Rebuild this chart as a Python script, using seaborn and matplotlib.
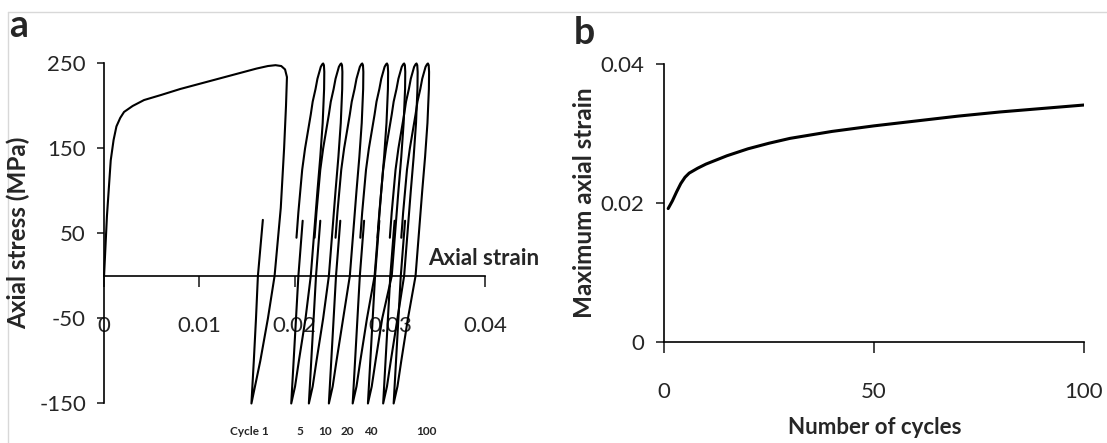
import matplotlib
matplotlib.use("Agg")
import matplotlib.pyplot as plt
import seaborn as sns
from matplotlib.lines import Line2D

# ---- panel a: stress-strain loops ----
# cycle 1: monotonic loading, unloading, start of reloading
c1_strain = [0, 0.0003, 0.0007, 0.0010, 0.0013, 0.0017, 0.0021, 0.0030, 0.0042, 0.0060,
             0.0080, 0.0100, 0.0120, 0.0140, 0.0160, 0.0172, 0.0180, 0.0186, 0.0190, 0.0192,
             0.0191, 0.0189, 0.01855, 0.0179, 0.0172, 0.0164, 0.01547, 0.01572, 0.01595, 0.01615,
             0.01667]
c1_stress = [0, 70, 136, 160, 176, 186, 193, 200, 207, 213,
             220, 226, 232, 238, 244, 247, 248, 247, 243, 234,
             200, 150, 80, 0, -50, -100, -150, -100, -50, 0,
             66]

# later cycles follow the same stress path: ~45 MPa -> 250 -> -150 -> ~65
loop_stress = [45, 75, 100, 125, 150, 170, 190, 205, 220, 232, 240, 246, 249, 250,
               248, 240, 220, 180, 140, 100, 50, 0,
               -50, -100, -130, -150,
               -110, -60, 0, 65]
c5_strain = [0.0202, 0.0204, 0.0206, 0.0208, 0.0211, 0.0214, 0.0217, 0.0219, 0.0222, 0.0224,
             0.0226, 0.02275, 0.0229, 0.0230,
             0.02308, 0.02312, 0.0231, 0.02295, 0.0227, 0.0224, 0.02205, 0.0217,
             0.02115, 0.02045, 0.02005, 0.01965,
             0.01985, 0.0201, 0.0204, 0.02085]
c10_strain = [0.0221, 0.0223, 0.0225, 0.0227, 0.0230, 0.0233, 0.0236, 0.0238, 0.0241, 0.0243,
              0.0245, 0.02465, 0.0248, 0.0249,
              0.02498, 0.02502, 0.0250, 0.02485, 0.0246, 0.0243, 0.02395, 0.0236,
              0.0230, 0.0223, 0.0219, 0.0215,
              0.0217, 0.02195, 0.02225, 0.0227]
c20_strain = [0.0243, 0.0245, 0.0247, 0.0249, 0.0252, 0.0255, 0.0258, 0.0260, 0.0263, 0.0265,
              0.0267, 0.02685, 0.0270, 0.0271,
              0.02718, 0.02722, 0.0272, 0.02705, 0.0268, 0.0265, 0.02615, 0.0258,
              0.0251, 0.0244, 0.0240, 0.0236,
              0.0238, 0.02405, 0.02435, 0.0248]
c40_strain = [0.0269, 0.0271, 0.0273, 0.0275, 0.0278, 0.0281, 0.0284, 0.0286, 0.0289, 0.0291,
              0.0293, 0.02945, 0.0296, 0.0297,
              0.02978, 0.02982, 0.0298, 0.02965, 0.0294, 0.0291, 0.02875, 0.0284,
              0.0276, 0.0269, 0.0265, 0.0261,
              0.0263, 0.02655, 0.02685, 0.0273]
c60_strain = [0.0287, 0.0289, 0.0291, 0.0293, 0.0296, 0.0299, 0.0302, 0.0304, 0.0307, 0.0309,
              0.0311, 0.03125, 0.0314, 0.0315,
              0.03158, 0.03162, 0.0316, 0.03145, 0.0312, 0.0309, 0.03055, 0.0302,
              0.0292, 0.0285, 0.0281, 0.0277,
              0.0279, 0.02815, 0.02845, 0.0289]
c80_strain = [0.0300, 0.0302, 0.0304, 0.0306, 0.0309, 0.0312, 0.0315, 0.0317, 0.0320, 0.0322,
              0.0324, 0.03255, 0.0327, 0.0328,
              0.03288, 0.03292, 0.0329, 0.03275, 0.0325, 0.0322, 0.03185, 0.0315,
              0.0308, 0.0301, 0.0297, 0.0293,
              0.0295, 0.02975, 0.03005, 0.0305]
c100_strain = [0.0312, 0.0314, 0.0316, 0.0318, 0.0321, 0.0324, 0.0327, 0.0329, 0.0332, 0.0334,
               0.0336, 0.03375, 0.0339, 0.0340,
               0.03408, 0.03412, 0.0341, 0.03395, 0.0337, 0.0334, 0.03305, 0.0327,
               0.0319, 0.0312, 0.0308, 0.0304,
               0.0306, 0.03085, 0.03115, 0.0316]

cycle_labels = ["Cycle 1", "5", "10", "20", "40", "100"]
cycle_label_x = [0.01526, 0.0206, 0.02316, 0.02558, 0.02797, 0.03385]

a_yticks = [250, 150, 50, -50, -150]
a_xticks = [0, 0.01, 0.02, 0.03, 0.04]
a_xticklabels = ["0", "0.01", "0.02", "0.03", "0.04"]

# ---- panel b: maximum axial strain per cycle ----
n_cycles = [1, 2, 3, 4, 5, 6, 8, 10, 15, 20, 25, 30, 40, 50, 60, 70, 80, 90, 100]
max_strain = [0.0192, 0.0203, 0.0216, 0.0228, 0.0237, 0.0243, 0.0250, 0.0256, 0.0268, 0.0278,
              0.0286, 0.0293, 0.0303, 0.0311, 0.0318, 0.0325, 0.0331, 0.0336, 0.0341]

sns.set_style("ticks")
plt.rcParams['font.family'] = ['Lato', 'DejaVu Sans']

fig = plt.figure(figsize=(11.07, 4.43), dpi=100)
ax1 = fig.add_axes([0.0940, 0.0892, 0.3442, 0.7675])
ax2 = fig.add_axes([0.5998, 0.2280, 0.3794, 0.6275])

# panel a
sns.lineplot(x=c1_strain, y=c1_stress, sort=False, estimator=None, color="black",
             lw=1.5, clip_on=False, ax=ax1)
for s in [c5_strain, c10_strain, c20_strain, c40_strain, c60_strain, c80_strain, c100_strain]:
    sns.lineplot(x=s, y=loop_stress, sort=False, estimator=None, color="black",
                 lw=1.5, clip_on=False, ax=ax1)

ax1.set_xlim(0, 0.04)
ax1.set_ylim(-150, 250)
ax1.spines['top'].set_visible(False)
ax1.spines['right'].set_visible(False)
ax1.spines['bottom'].set_position(('data', 0))
for sp in ['left', 'bottom']:
    ax1.spines[sp].set_linewidth(1.2)
    ax1.spines[sp].set_color("black")
ax1.set_yticks(a_yticks)
ax1.set_yticklabels([str(v) for v in a_yticks])
ax1.set_xticks(a_xticks)
ax1.set_xticklabels(a_xticklabels)
ax1.tick_params(axis='y', direction='out', length=5, width=1.2, pad=8, labelsize=16)
ax1.tick_params(axis='x', direction='out', length=8, width=1.2, pad=21, labelsize=16)
ax1.set_xlabel("")
ax1.set_ylabel("")
ax1.text(0.0399, 13, "Axial strain", ha="center", va="baseline", fontsize=16,
         fontweight="bold")
for lab, x in zip(cycle_labels, cycle_label_x):
    ax1.text(x, -183, lab, ha="center", va="center", fontsize=8.5, fontweight="bold",
             clip_on=False)

# panel b
sns.lineplot(x=n_cycles, y=max_strain, color="black", lw=2.2, ax=ax2)
ax2.set_xlim(0, 100)
ax2.set_ylim(0, 0.04)
ax2.spines['top'].set_visible(False)
ax2.spines['right'].set_visible(False)
for sp in ['left', 'bottom']:
    ax2.spines[sp].set_linewidth(1.2)
    ax2.spines[sp].set_color("black")
ax2.set_xticks([0, 50, 100])
ax2.set_xticklabels(["0", "50", "100"])
ax2.set_yticks([0, 0.02, 0.04])
ax2.set_yticklabels(["0", "0.02", "0.04"])
ax2.tick_params(axis='y', direction='out', length=6, width=1.2, pad=8, labelsize=16)
ax2.tick_params(axis='x', direction='out', length=8, width=1.2, pad=21, labelsize=16)
ax2.set_xlabel("")
ax2.set_ylabel("")

# axis titles and panel letters
fig.text(0.0163, 0.474, "Axial stress (MPa)", rotation=90, ha="center", va="center",
         fontsize=17.5, fontweight="bold")
fig.text(0.5276, 0.5418, "Maximum axial strain", rotation=90, ha="center", va="center",
         fontsize=17.5, fontweight="bold")
fig.text(0.790, 0.036, "Number of cycles", ha="center", va="center",
         fontsize=16, fontweight="bold")
fig.text(0.008, 0.9165, "a", ha="left", va="baseline", fontsize=27, fontweight="bold")
fig.text(0.5185, 0.9007, "b", ha="left", va="baseline", fontsize=27, fontweight="bold")

# light frame lines along top and left edge
fig.add_artist(Line2D([0.007, 1.0], [0.973, 0.973], transform=fig.transFigure,
                      color="#d8d8d8", lw=1))
fig.add_artist(Line2D([0.007, 0.007], [0.0, 0.973], transform=fig.transFigure,
                      color="#d8d8d8", lw=1))

fig.savefig("out.png", dpi=100)
